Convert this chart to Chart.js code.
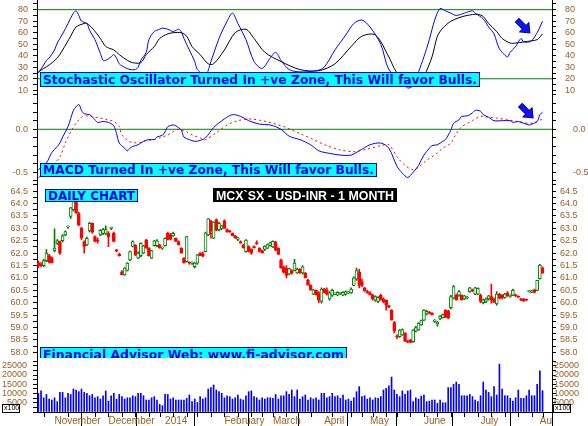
<!DOCTYPE html>
<html>
<head>
<meta charset="utf-8">
<script src="https://cdn.jsdelivr.net/npm/chart.js@4.4.0/dist/chart.umd.min.js"></script>
<style>
  body { margin: 0; background: #fff; }
  #wrap { position: relative; width: 588px; height: 426px; overflow: hidden; background: #fff; }
  #wrap canvas { position: absolute; left: 0; }
</style>
</head>
<body>
<div id="wrap">
  <canvas id="stoch" width="588" height="99" style="top:0px"></canvas>
  <canvas id="macd" width="588" height="109" style="top:83px"></canvas>
  <canvas id="price" width="588" height="190" style="top:176px"></canvas>
  <canvas id="volume" width="588" height="76" style="top:350px"></canvas>
</div>
<script>
// trading days shown on the chart, month by month
const calendar = [
  ['2013-10', [24, 25, 28, 29, 30, 31]],
  ['2013-11', [1, 5, 6, 7, 8, 11, 12, 13, 14, 15, 18, 19, 20, 21, 22, 25, 26, 27, 28, 29]],
  ['2013-12', [2, 3, 4, 5, 6, 9, 10, 11, 12, 13, 16, 17, 18, 19, 20, 23, 24, 26, 27, 30, 31]],
  ['2014-01', [1, 2, 3, 6, 7, 8, 9, 10, 13, 15, 16, 17, 20, 21, 22, 23, 24, 27, 28, 29, 30, 31]],
  ['2014-02', [3, 4, 5, 6, 7, 10, 11, 12, 13, 14, 17, 18, 20, 21, 24, 25, 26, 28]],
  ['2014-03', [3, 4, 5, 6, 7, 10, 11, 12, 13, 14, 18, 19, 20, 21, 24, 25, 26, 27, 28]],
  ['2014-04', [2, 3, 4, 7, 9, 10, 11, 15, 16, 17, 21, 22, 23, 25, 28, 29, 30]],
  ['2014-05', [2, 5, 6, 7, 8, 9, 12, 13, 15, 16, 19, 20, 21, 22, 23, 26, 27, 28, 29, 30]],
  ['2014-06', [2, 3, 4, 5, 6, 9, 10, 11, 12, 13, 16, 17, 18, 19, 20, 23, 24, 25, 26, 27, 30]],
  ['2014-07', [1, 2, 3, 4, 7, 8, 9, 10, 11, 14, 15, 16, 17, 18, 21, 22, 23, 24, 25, 28, 30, 31]],
  ['2014-08', [1, 4]],
];
const monthLabels = ['November', 'December', '2014', 'February', 'March', 'April', 'May', 'June', 'July', 'August'];

// open, high, low, close per day
const ohlc = [
  [61.62, 61.68, 61.42, 61.48], [61.55, 61.62, 61.45, 61.50], [61.50, 61.75, 61.45, 61.70], [61.70, 62.15, 61.65, 62.00],
  [61.90, 61.95, 61.60, 61.65], [61.80, 61.85, 61.60, 61.62], [62.10, 62.98, 62.05, 62.20], [62.40, 62.55, 62.35, 62.50],
  [62.47, 62.50, 61.95, 62.00], [62.50, 62.75, 62.45, 62.70], [62.74, 62.90, 62.70, 62.87], [63.05, 63.10, 63.00, 63.07],
  [63.48, 63.85, 63.40, 63.83], [63.75, 64.20, 63.70, 64.08], [64.08, 64.30, 63.60, 63.62], [63.60, 63.65, 63.10, 63.14],
  [63.00, 63.05, 62.55, 62.60], [62.47, 62.50, 62.00, 62.27], [62.33, 62.65, 62.30, 62.60], [62.90, 63.25, 62.85, 63.20],
  [63.20, 63.22, 62.80, 62.85], [62.67, 62.70, 62.45, 62.47], [62.50, 62.60, 62.40, 62.48], [62.74, 62.95, 62.70, 62.92],
  [62.80, 63.00, 62.75, 62.95], [62.80, 63.10, 62.75, 62.95], [62.80, 62.87, 62.26, 62.65], [63.00, 63.05, 62.95, 63.00],
  [62.80, 62.85, 62.45, 62.47], [62.13, 62.15, 62.05, 62.08], [61.95, 62.00, 61.88, 61.90], [61.25, 61.30, 61.12, 61.12],
  [61.12, 61.42, 61.10, 61.40], [61.30, 61.62, 61.28, 61.60], [61.73, 62.08, 61.70, 62.06], [62.27, 62.50, 62.25, 62.47],
  [62.33, 62.35, 61.90, 61.93], [61.80, 62.05, 61.78, 62.00], [61.90, 62.42, 61.85, 62.40], [62.00, 62.32, 61.98, 62.30],
  [62.53, 62.56, 62.20, 62.20], [62.20, 62.22, 61.88, 61.90], [61.80, 62.12, 61.78, 62.10], [62.30, 62.52, 62.28, 62.50],
  [62.30, 62.55, 62.25, 62.50], [62.33, 62.36, 62.20, 62.20], [62.20, 62.25, 62.15, 62.20], [62.30, 62.62, 62.28, 62.60],
  [62.80, 62.85, 62.53, 62.55], [62.75, 62.80, 62.53, 62.55], [62.70, 62.85, 62.68, 62.80], [62.60, 62.62, 62.47, 62.47],
  [62.47, 62.50, 62.33, 62.33], [62.20, 62.22, 62.00, 62.00], [61.80, 61.82, 61.60, 61.62], [61.66, 62.68, 61.64, 62.67],
  [61.62, 61.65, 61.55, 61.60], [61.60, 61.65, 61.55, 61.60], [61.45, 61.62, 61.40, 61.60], [61.60, 61.95, 61.55, 61.93],
  [62.00, 62.02, 61.90, 61.90], [61.98, 62.05, 61.85, 61.88], [62.06, 62.85, 62.05, 62.82], [62.74, 63.40, 62.70, 63.38],
  [63.30, 63.32, 62.60, 62.90], [62.60, 63.27, 62.58, 63.25], [63.35, 63.38, 62.90, 62.92], [62.95, 63.25, 62.90, 63.20],
  [63.00, 63.12, 62.95, 63.10], [63.30, 63.35, 63.00, 63.00], [62.95, 62.98, 62.85, 62.85], [62.88, 62.92, 62.84, 62.86],
  [62.80, 62.82, 62.70, 62.70], [62.70, 62.72, 62.60, 62.60], [62.55, 62.65, 62.50, 62.62], [62.47, 62.50, 62.40, 62.40],
  [62.33, 62.36, 62.20, 62.22], [62.06, 62.55, 62.04, 62.53], [62.27, 62.30, 62.05, 62.07], [62.15, 62.18, 61.95, 62.00],
  [62.27, 62.30, 62.20, 62.22], [62.40, 62.50, 62.35, 62.38], [62.20, 62.22, 62.05, 62.07], [62.10, 62.12, 62.00, 62.02],
  [62.15, 62.30, 62.10, 62.28], [62.20, 62.37, 62.18, 62.35], [62.30, 62.45, 62.28, 62.42], [62.25, 62.50, 62.22, 62.48],
  [62.45, 62.48, 62.10, 62.12], [62.20, 62.22, 61.95, 61.95], [61.73, 61.76, 61.38, 61.40], [61.45, 61.48, 61.20, 61.22],
  [61.40, 61.50, 61.00, 61.10], [61.15, 61.40, 61.12, 61.38], [61.30, 61.33, 61.15, 61.20], [61.30, 61.75, 61.28, 61.60],
  [61.20, 61.40, 61.18, 61.35], [61.35, 61.38, 61.18, 61.20], [61.20, 61.50, 61.15, 61.45], [61.20, 61.22, 61.00, 61.00],
  [60.90, 60.95, 60.70, 60.72], [60.70, 60.72, 60.50, 60.52], [60.35, 60.55, 60.32, 60.52], [60.50, 60.52, 60.30, 60.32],
  [60.40, 60.45, 60.00, 60.10], [60.05, 60.60, 59.98, 60.55], [60.55, 60.58, 60.40, 60.42], [60.50, 60.60, 60.30, 60.35],
  [60.15, 60.45, 60.10, 60.40], [60.30, 60.55, 60.25, 60.50], [60.35, 60.40, 60.32, 60.38], [60.30, 60.45, 60.28, 60.42],
  [60.38, 60.42, 60.33, 60.38], [60.30, 60.45, 60.28, 60.42], [60.35, 60.48, 60.30, 60.45], [60.40, 60.45, 60.36, 60.42],
  [60.40, 60.60, 60.38, 60.55], [60.70, 61.05, 60.68, 61.00], [60.95, 61.40, 60.90, 61.30], [61.25, 61.35, 60.60, 60.70],
  [60.85, 60.95, 60.65, 60.70], [60.60, 60.62, 60.45, 60.48], [60.45, 60.50, 60.38, 60.40], [60.40, 60.45, 60.30, 60.32],
  [60.30, 60.35, 60.10, 60.15], [60.10, 60.28, 60.05, 60.25], [60.05, 60.25, 60.00, 60.22], [60.30, 60.35, 60.10, 60.12],
  [60.15, 60.20, 60.00, 60.02], [60.10, 60.12, 59.70, 59.90], [59.88, 59.90, 59.80, 59.84], [59.70, 59.72, 59.30, 59.30],
  [59.20, 59.25, 58.78, 58.85], [58.65, 58.70, 58.55, 58.62], [58.63, 58.92, 58.60, 58.90], [58.70, 58.95, 58.68, 58.92],
  [58.78, 58.80, 58.43, 58.45], [58.45, 58.48, 58.38, 58.42], [58.50, 58.52, 58.38, 58.40], [58.43, 58.92, 58.40, 58.90],
  [58.85, 59.05, 58.82, 59.00], [58.90, 59.20, 58.88, 59.18], [59.10, 59.30, 59.08, 59.28], [59.30, 59.72, 59.28, 59.70],
  [59.55, 59.70, 59.50, 59.65], [59.62, 59.65, 59.55, 59.58], [59.58, 59.60, 59.50, 59.52], [59.25, 59.32, 59.20, 59.30],
  [59.15, 59.25, 59.05, 59.22], [59.35, 59.48, 59.32, 59.45], [59.40, 59.55, 59.38, 59.52], [59.70, 59.72, 59.40, 59.42],
  [59.65, 59.70, 59.35, 59.40], [59.80, 60.30, 59.75, 60.25], [60.18, 60.70, 60.15, 60.65], [60.30, 60.35, 60.10, 60.12],
  [60.30, 60.50, 60.25, 60.45], [60.30, 60.32, 60.10, 60.12], [60.15, 60.30, 60.12, 60.28], [60.20, 60.25, 60.15, 60.20],
  [60.45, 60.62, 60.42, 60.60], [60.50, 60.55, 60.45, 60.48], [60.35, 60.62, 60.32, 60.60], [60.35, 60.60, 60.33, 60.58],
  [60.30, 60.35, 60.00, 60.05], [60.00, 60.15, 59.95, 60.12], [60.05, 60.20, 60.00, 60.15], [60.15, 60.30, 60.10, 60.28],
  [60.25, 60.75, 59.98, 60.10], [60.15, 60.20, 60.00, 60.02], [59.95, 60.45, 59.90, 60.35], [60.35, 60.38, 60.15, 60.18],
  [60.30, 60.33, 60.15, 60.18], [60.20, 60.38, 60.18, 60.35], [60.40, 60.45, 60.25, 60.28], [60.25, 60.32, 60.22, 60.30],
  [60.30, 60.55, 60.28, 60.50], [60.32, 60.35, 60.25, 60.28], [60.25, 60.28, 60.20, 60.22], [60.15, 60.18, 60.08, 60.10],
  [60.15, 60.18, 60.05, 60.08], [60.12, 60.15, 60.08, 60.10], [60.45, 60.50, 60.43, 60.48], [60.42, 60.50, 60.40, 60.48],
  [60.52, 60.55, 60.40, 60.42], [60.50, 60.90, 60.48, 60.90], [60.97, 61.55, 60.95, 61.52], [61.39, 61.45, 61.18, 61.20],
];

const volume = [
  10100, 11400, 7700, 9500, 7000, 6500, 7700, 5600, 10600, 10600,
  7700, 10100, 9500, 12400, 11900, 11000, 12400, 10600, 10100, 8800,
  9500, 7700, 8300, 7000, 8800, 11400, 5900, 8800, 10100, 7000,
  9500, 8300, 7000, 7700, 7700, 8800, 8300, 10100, 10100, 8800,
  6500, 6500, 7700, 8300, 6500, 4100, 3400, 9500, 9500, 7000,
  7700, 6500, 6500, 6500, 6500, 7400, 9200, 5600, 7000, 5200,
  8300, 7000, 7700, 12400, 13200, 14600, 11900, 11000, 10100, 7700,
  8800, 8300, 7000, 7700, 9200, 7000, 6500, 8800, 11000, 11400,
  8300, 7700, 6500, 7700, 7000, 7700, 7700, 7400, 9500, 7000,
  8800, 8800, 11000, 9500, 11900, 8300, 11900, 7000, 8300, 9200,
  6500, 7700, 7000, 7700, 6500, 10100, 10100, 7700, 8300, 10100,
  8300, 8800, 7400, 9200, 6500, 7000, 5900, 7700, 11000, 13700,
  8300, 8800, 7000, 7700, 6500, 7700, 7400, 8300, 11900, 12800,
  14200, 18900, 11900, 9500, 8300, 11400, 9500, 11400, 11900, 5600,
  7700, 7000, 8600, 9200, 5600, 5900, 6500, 6500, 4700, 6500,
  5000, 5000, 13200, 13200, 15000, 16200, 15000, 8800, 8800, 8800,
  9500, 8300, 6500, 5600, 8800, 16200, 11900, 10600, 8300, 13700,
  9200, 25900, 12400, 8800, 8800, 7400, 5900, 7700, 11900, 7400,
  7400, 8800, 11900, 8800, 8800, 15000, 22300, 11500,
];

// [day index, value]
const stochK = [
  [0, 25], [2, 32], [3, 36], [4, 38], [6, 45], [7, 51], [9, 59], [11, 68], [13, 77], [14, 79], [15, 75], [16, 70],
  [18, 68], [19, 62], [21, 54], [23, 42], [24, 36], [25, 36], [27, 39], [28, 41], [29, 38], [30, 33], [32, 30],
  [34, 28], [36, 28], [37, 30], [38, 36], [40, 43], [41, 54], [43, 61], [45, 63], [46, 64], [48, 63], [50, 61],
  [51, 62], [52, 63], [53, 61], [54, 55], [56, 45], [58, 35], [59, 28], [62, 23], [64, 35], [67, 55], [70, 70],
  [72, 77], [74, 68], [77, 54], [80, 35], [83, 29], [86, 38], [88, 43], [90, 36], [93, 28], [97, 26], [103, 27],
  [106, 30], [110, 45], [114, 58], [117, 68], [120, 71], [123, 65], [127, 50], [130, 28], [135, 17], [137, 12],
  [139, 14], [141, 26], [143, 39], [145, 54], [147, 71], [149, 81], [151, 79], [153, 77], [155, 75], [158, 77],
  [161, 79], [162, 77], [165, 72], [167, 65], [169, 59], [170, 52], [171, 46], [172, 43], [174, 39], [175, 43],
  [177, 48], [179, 55], [180, 52], [182, 52], [183, 53], [185, 60], [187, 70],
];
const stochD = [
  [0, 26], [2, 29], [4, 32], [7, 38], [9, 45], [12, 57], [14, 65], [17, 68], [18, 68], [20, 64], [23, 55], [25, 48],
  [28, 45], [30, 41], [33, 36], [35, 34], [38, 34], [40, 41], [43, 48], [45, 55], [48, 59], [50, 60], [53, 60],
  [55, 57], [57, 48], [60, 41], [63, 33], [65, 33], [69, 45], [73, 60], [77, 63], [80, 55], [84, 43], [90, 35],
  [97, 28], [104, 27], [110, 33], [116, 48], [120, 57], [125, 58], [130, 39], [132, 29], [135, 19], [138, 15],
  [141, 16], [143, 22], [146, 39], [148, 57], [150, 64], [153, 70], [156, 73], [159, 75], [163, 76], [165, 74],
  [167, 68], [170, 61], [172, 55], [175, 51], [177, 51], [180, 52], [183, 53], [185, 54], [187, 59],
];
const macd = [
  [0, -0.47], [3, -0.39], [5, -0.27], [7, -0.2], [8, -0.16], [9, -0.09], [11, 0.03], [13, 0.22], [14, 0.26],
  [15, 0.29], [16, 0.22], [17, 0.18], [19, 0.17], [21, 0.11], [22, 0.08], [24, 0.09], [26, 0.08], [28, 0.04],
  [29, -0.05], [30, -0.16], [32, -0.22], [33, -0.25], [34, -0.22], [35, -0.2], [37, -0.18], [39, -0.14],
  [41, -0.12], [43, -0.12], [44, -0.09], [46, -0.07], [47, -0.03], [48, 0.03], [50, 0.05], [51, 0.04],
  [53, -0.01], [54, -0.09], [56, -0.12], [58, -0.14], [60, -0.13], [62, -0.1], [65, 0.02], [69, 0.12],
  [72, 0.17], [75, 0.15], [78, 0.1], [82, 0.06], [86, 0.05], [90, 0.0], [93, -0.08], [97, -0.12], [101, -0.18],
  [104, -0.25], [108, -0.28], [112, -0.3], [116, -0.3], [119, -0.25], [123, -0.18], [127, -0.16], [130, -0.22],
  [133, -0.43], [135, -0.51], [137, -0.56], [139, -0.5], [141, -0.42], [143, -0.3], [145, -0.22], [146, -0.19],
  [148, -0.18], [150, -0.14], [151, -0.12], [153, -0.01], [154, 0.07], [156, 0.11], [157, 0.15], [159, 0.155],
  [161, 0.19], [162, 0.22], [164, 0.21], [165, 0.17], [167, 0.14], [169, 0.1], [172, 0.1], [175, 0.1],
  [176, 0.08], [178, 0.09], [180, 0.07], [182, 0.05], [183, 0.06], [185, 0.09], [186, 0.17], [187, 0.2],
];
const signal = [
  [0, -0.56], [3, -0.5], [5, -0.43], [8, -0.32], [10, -0.16], [12, -0.03], [14, 0.07], [16, 0.14], [18, 0.155],
  [20, 0.147], [23, 0.13], [25, 0.116], [28, 0.09], [30, 0.03], [31, -0.066], [33, -0.124], [35, -0.155],
  [38, -0.15], [40, -0.13], [43, -0.12], [45, -0.1], [48, -0.066], [50, -0.028], [52, 0.0], [55, -0.03],
  [57, -0.066], [60, -0.1], [62, -0.12], [66, -0.04], [70, 0.05], [74, 0.1], [78, 0.12], [83, 0.1], [88, 0.06],
  [92, 0.02], [97, -0.05], [102, -0.12], [107, -0.19], [112, -0.24], [117, -0.26], [122, -0.23], [127, -0.19],
  [130, -0.18], [133, -0.32], [136, -0.42], [139, -0.47], [141, -0.44], [144, -0.36], [147, -0.3], [150, -0.22],
  [153, -0.16], [155, -0.05], [157, 0.03], [161, 0.1], [164, 0.15], [167, 0.14], [170, 0.13], [174, 0.11],
  [178, 0.09], [182, 0.07], [184, 0.08], [187, 0.12],
];

// labelled ticks of each pane
const stochTicks = [10, 20, 30, 40, 50, 60, 70, 80];
const macdTicks = [-0.5, 0.0];
const priceTicks = [58.0, 58.5, 59.0, 59.5, 60.0, 60.5, 61.0, 61.5, 62.0, 62.5, 63.0, 63.5, 64.0, 64.5];
const volumeTicks = [5000, 10000, 15000, 20000, 25000];

const dates = [];
const monthStarts = [];
calendar.forEach(([ym, days], m) => {
  if (m > 0) monthStarts.push(dates.length);
  days.forEach(d => dates.push(ym + '-' + String(d).padStart(2, '0')));
});
const mondays = dates.map((d, i) => new Date(d + 'T00:00:00Z').getUTCDay() === 1 ? i : -1).filter(i => i >= 0);

const trailingSlots = 3;
const xMin = -0.5;
const xMax = dates.length - 0.5 + trailingSlots;

const labelColor = '#9a6128';
const tickFont = { family: 'Liberation Sans', size: 9 };
const green = '#008000';
const red = '#ff0000';
const blue = '#0000ff';

function near(list, v) {
  return list.some(t => Math.abs(t - v) < 1e-6);
}

function yAxis(position, min, max, labelled, step, digits, pad) {
  return {
    type: 'linear',
    position,
    min,
    max,
    afterBuildTicks(scale) {
      const ticks = [];
      for (let k = Math.ceil(min / step - 1e-9); k * step <= max + 1e-9; k++) {
        ticks.push({ value: +(k * step).toFixed(6) });
      }
      scale.ticks = ticks;
    },
    afterFit(scale) {
      scale.width = position === 'left' ? 37 : 36;
      scale.paddingTop = 0;
      scale.paddingBottom = 0;
    },
    border: { display: true, color: '#000', width: 1 },
    grid: { drawOnChartArea: false, drawTicks: true, tickLength: 4, color: '#000', tickColor: '#000' },
    ticks: {
      autoSkip: false,
      padding: pad,
      color: labelColor,
      font: tickFont,
      callback: v => (near(labelled, v) ? v.toFixed(digits) : ''),
    },
  };
}

function hiddenX() {
  return { type: 'linear', min: xMin, max: xMax, offset: false, display: false };
}

function refLine(value) {
  return {
    type: 'line',
    data: [{ x: xMin, y: value }, { x: xMax, y: value }],
    borderColor: green,
    borderWidth: 1,
    pointRadius: 0,
  };
}

function pairs(list) {
  return list.map(([x, y]) => ({ x, y }));
}

function drawBox(ctx, b) {
  ctx.save();
  ctx.fillStyle = b.bg;
  ctx.fillRect(b.x, b.y, b.w, b.h);
  if (b.border) {
    ctx.strokeStyle = b.border;
    ctx.lineWidth = 1;
    ctx.strokeRect(b.x + 0.5, b.y + 0.5, b.w - 1, b.h - 1);
  }
  ctx.font = b.font;
  ctx.fillStyle = b.color;
  ctx.textBaseline = 'alphabetic';
  const w = ctx.measureText(b.text).width;
  const room = b.w - 2 * b.padX;
  ctx.translate(b.x + b.padX, b.y + b.base);
  ctx.scale(room / w, 1);
  ctx.fillText(b.text, 0, 0);
  ctx.restore();
}

function drawArrow(ctx, x, y) {
  const pts = [[0, 0], [-8, -6.5], [-8, -2.5], [-18, -2.5], [-18, 2.5], [-8, 2.5], [-8, 6.5]];
  ctx.save();
  ctx.translate(x, y);
  ctx.rotate(Math.PI / 4);
  ctx.beginPath();
  pts.forEach(([px, py], k) => (k ? ctx.lineTo(px, py) : ctx.moveTo(px, py)));
  ctx.closePath();
  ctx.fillStyle = '#1010ff';
  ctx.fill();
  ctx.strokeStyle = '#000090';
  ctx.lineWidth = 1;
  ctx.stroke();
  ctx.restore();
}

function overlay(boxes, arrows) {
  return {
    id: 'overlay',
    afterDatasetsDraw(chart) {
      const { ctx, chartArea: a } = chart;
      ctx.save();
      ctx.beginPath();
      ctx.rect(a.left, a.top, a.right - a.left, a.bottom - a.top);
      ctx.clip();
      boxes.forEach(b => drawBox(ctx, b));
      arrows.forEach(([i, v]) => drawArrow(ctx, chart.scales.x.getPixelForValue(i), chart.scales.y.getPixelForValue(v)));
      ctx.restore();
    },
  };
}

const labelFont = 'bold 12px "DejaVu Sans"';

function baseOptions(top, bottom) {
  return {
    responsive: false,
    animation: false,
    events: [],
    layout: { padding: { top, bottom, left: 0, right: 0 } },
    plugins: { legend: { display: false }, tooltip: { enabled: false } },
  };
}

// Stochastic pane
new Chart(document.getElementById('stoch'), {
  type: 'line',
  data: {
    datasets: [
      { data: pairs(stochK), borderColor: blue, borderWidth: 1, pointRadius: 0, tension: 0.3 },
      { data: pairs(stochD), borderColor: '#000', borderWidth: 1, pointRadius: 0, tension: 0.3 },
      refLine(80),
      refLine(20),
    ],
  },
  options: {
    ...baseOptions(0, 8),
    scales: {
      x: hiddenX(),
      y: yAxis('left', 9.4, 88.4, stochTicks, 5, 0, 5),
      yR: yAxis('right', 9.4, 88.4, stochTicks, 5, 0, 9),
    },
  },
  plugins: [overlay([
    { text: 'Stochastic Oscillator Turned In +ve Zone, This Will favor Bulls.', x: 40, y: 72, w: 440, h: 15,
      base: 12, padX: 3, bg: '#00ffff', border: '#0000c0', color: '#0000ee', font: labelFont },
  ], [[182.3, 59.8]])],
});

// MACD pane
new Chart(document.getElementById('macd'), {
  type: 'line',
  data: {
    datasets: [
      { data: pairs(macd), borderColor: blue, borderWidth: 1, pointRadius: 0, tension: 0.3 },
      { data: pairs(signal), borderColor: red, borderWidth: 1, borderDash: [2, 3], pointRadius: 0, tension: 0.3 },
      refLine(0),
    ],
  },
  options: {
    ...baseOptions(8, 8),
    scales: {
      x: hiddenX(),
      y: yAxis('left', -0.636, 0.445, macdTicks, 0.1, 1, 5),
      yR: yAxis('right', -0.636, 0.445, macdTicks, 0.1, 1, 17),
    },
  },
  plugins: [overlay([
    { text: 'MACD Turned In +ve Zone, This Will favor Bulls.', x: 40, y: 80, w: 337, h: 14,
      base: 11, padX: 3, bg: '#00ffff', border: '#0000c0', color: '#0000ee', font: labelFont },
  ], [[183.5, 0.131]])],
});

// Price pane: body bars over wick bars
const up = ohlc.map(([o, , , c]) => c >= o);
new Chart(document.getElementById('price'), {
  type: 'bar',
  data: {
    datasets: [
      {
        data: ohlc.map(([o, , , c], i) => ({ x: i, y: [o, c] })),
        backgroundColor: up.map(u => (u ? '#ffffff' : red)),
        borderColor: up.map(u => (u ? green : red)),
        borderWidth: 1,
        borderSkipped: false,
        barThickness: 3,
        minBarLength: 1,
        grouped: false,
      },
      {
        data: ohlc.map(([, h, l], i) => ({ x: i, y: [l, h] })),
        backgroundColor: up.map(u => (u ? green : red)),
        borderWidth: 0,
        barThickness: 1,
        grouped: false,
      },
    ],
  },
  options: {
    ...baseOptions(8, 8),
    scales: {
      x: hiddenX(),
      y: yAxis('left', 57.77, 64.79, priceTicks, 0.25, 1, 5),
      yR: yAxis('right', 57.77, 64.79, priceTicks, 0.25, 1, 4),
    },
  },
  plugins: [overlay([
    { text: 'DAILY CHART', x: 45, y: 13, w: 93, h: 13, base: 11, padX: 3,
      bg: '#00ffff', border: '#0000c0', color: '#0000ee', font: labelFont },
    { text: 'MCX`SX - USD-INR - 1 MONTH', x: 213, y: 12, w: 184, h: 14, base: 11.5, padX: 3,
      bg: '#000000', color: '#ffffff', font: 'bold 12px "Liberation Sans"' },
    { text: 'Financial Advisor Web: www.fi-advisor.com', x: 40, y: 171, w: 307, h: 14, base: 12, padX: 3,
      bg: '#00ffff', border: '#0000c0', color: '#0000ee', font: labelFont },
  ], [])],
});

// Volume pane with the date axis
const dateAxisExtras = {
  id: 'dateAxisExtras',
  afterDraw(chart) {
    const { ctx, chartArea: a, scales: { x } } = chart;
    ctx.save();
    ctx.clearRect(a.right + 1, a.bottom + 1, chart.width - a.right, chart.height - a.bottom);
    ctx.strokeStyle = '#000';
    ctx.lineWidth = 1;
    ctx.beginPath();
    mondays.forEach(i => {
      const px = Math.round(x.getPixelForValue(i)) + 0.5;
      ctx.moveTo(px, a.bottom);
      ctx.lineTo(px, a.bottom + 5);
    });
    ctx.moveTo(Math.round(a.right) + 0.5, a.bottom);
    ctx.lineTo(Math.round(a.right) + 0.5, chart.height);
    ctx.stroke();
    [[2, a.bottom - 8], [553, a.bottom - 8]].forEach(([bx, by]) => {
      ctx.fillStyle = '#fff';
      ctx.fillRect(bx, by, 17, 8);
      ctx.strokeRect(bx + 0.5, by + 0.5, 17, 8);
      ctx.fillStyle = '#000';
      ctx.font = '7px "Liberation Sans"';
      ctx.textBaseline = 'middle';
      ctx.fillText('x100', bx + 2, by + 4.5);
    });
    ctx.restore();
  },
};

new Chart(document.getElementById('volume'), {
  type: 'bar',
  data: {
    datasets: [{
      data: volume.map((v, i) => ({ x: i, y: v })),
      backgroundColor: blue,
      barThickness: 1,
      grouped: false,
    }],
  },
  options: {
    ...baseOptions(8, 0),
    scales: {
      x: {
        type: 'linear',
        min: xMin,
        max: xMax,
        offset: false,
        afterBuildTicks(scale) {
          scale.ticks = monthStarts.map(v => ({ value: v }));
        },
        afterFit(scale) {
          scale.height = 14;
          scale.paddingLeft = 0;
          scale.paddingRight = 0;
        },
        border: { display: true, color: '#000' },
        grid: { drawOnChartArea: false, tickLength: 14, color: '#000' },
        ticks: {
          autoSkip: false,
          maxRotation: 0,
          align: 'start',
          padding: -11,
          color: labelColor,
          font: { family: 'Liberation Sans', size: 10 },
          callback: (v, i) => monthLabels[i],
        },
      },
      y: yAxis('left', 0, 29200, volumeTicks, 2500, 0, 6),
      yR: yAxis('right', 0, 29200, volumeTicks, 2500, 0, -2),
    },
  },
  plugins: [dateAxisExtras],
});
</script>
</body>
</html>
